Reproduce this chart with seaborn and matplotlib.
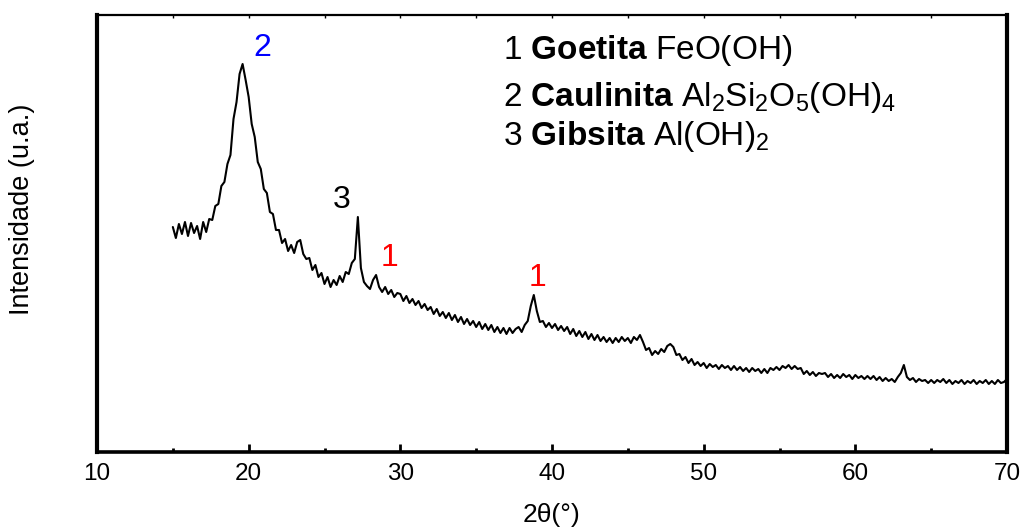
import numpy as np
import pandas as pd
import matplotlib
matplotlib.use("Agg")
import matplotlib.pyplot as plt
import seaborn as sns

# ---- data ----
two_theta = [
    15.0, 15.2, 15.4, 15.6, 15.8, 16.0, 16.2, 16.4, 16.6, 16.8,
    17.0, 17.2, 17.4, 17.6, 17.8, 18.0, 18.2, 18.4, 18.6, 18.8,
    19.0, 19.2, 19.4, 19.6, 19.8, 20.0, 20.2, 20.4, 20.6, 20.8,
    21.0, 21.2, 21.4, 21.6, 21.8, 22.0, 22.2, 22.4, 22.6, 22.8,
    23.0, 23.2, 23.4, 23.6, 23.8, 24.0, 24.2, 24.4, 24.6, 24.8,
    25.0, 25.2, 25.4, 25.6, 25.8, 26.0, 26.2, 26.4, 26.6, 26.8,
    27.0, 27.2, 27.4, 27.6, 27.8, 28.0, 28.2, 28.4, 28.6, 28.8,
    29.0, 29.2, 29.4, 29.6, 29.8, 30.0, 30.2, 30.4, 30.6, 30.8,
    31.0, 31.2, 31.4, 31.6, 31.8, 32.0, 32.2, 32.4, 32.6, 32.8,
    33.0, 33.2, 33.4, 33.6, 33.8, 34.0, 34.2, 34.4, 34.6, 34.8,
    35.0, 35.2, 35.4, 35.6, 35.8, 36.0, 36.2, 36.4, 36.6, 36.8,
    37.0, 37.2, 37.4, 37.6, 37.8, 38.0, 38.2, 38.4, 38.6, 38.8,
    39.0, 39.2, 39.4, 39.6, 39.8, 40.0, 40.2, 40.4, 40.6, 40.8,
    41.0, 41.2, 41.4, 41.6, 41.8, 42.0, 42.2, 42.4, 42.6, 42.8,
    43.0, 43.2, 43.4, 43.6, 43.8, 44.0, 44.2, 44.4, 44.6, 44.8,
    45.0, 45.2, 45.4, 45.6, 45.8, 46.0, 46.2, 46.4, 46.6, 46.8,
    47.0, 47.2, 47.4, 47.6, 47.8, 48.0, 48.2, 48.4, 48.6, 48.8,
    49.0, 49.2, 49.4, 49.6, 49.8, 50.0, 50.2, 50.4, 50.6, 50.8,
    51.0, 51.2, 51.4, 51.6, 51.8, 52.0, 52.2, 52.4, 52.6, 52.8,
    53.0, 53.2, 53.4, 53.6, 53.8, 54.0, 54.2, 54.4, 54.6, 54.8,
    55.0, 55.2, 55.4, 55.6, 55.8, 56.0, 56.2, 56.4, 56.6, 56.8,
    57.0, 57.2, 57.4, 57.6, 57.8, 58.0, 58.2, 58.4, 58.6, 58.8,
    59.0, 59.2, 59.4, 59.6, 59.8, 60.0, 60.2, 60.4, 60.6, 60.8,
    61.0, 61.2, 61.4, 61.6, 61.8, 62.0, 62.2, 62.4, 62.6, 62.8,
    63.0, 63.2, 63.4, 63.6, 63.8, 64.0, 64.2, 64.4, 64.6, 64.8,
    65.0, 65.2, 65.4, 65.6, 65.8, 66.0, 66.2, 66.4, 66.6, 66.8,
    67.0, 67.2, 67.4, 67.6, 67.8, 68.0, 68.2, 68.4, 68.6, 68.8,
    69.0, 69.2, 69.4, 69.6, 69.8, 70.0,
]
intensity = [
    225, 214, 228, 218, 230, 216, 229, 219, 226, 213,
    230, 220, 233, 232, 246, 248, 266, 270, 288, 297,
    333, 350, 378, 388, 372, 355, 328, 315, 290, 283,
    263, 259, 240, 238, 222, 222, 209, 213, 201, 207,
    199, 210, 212, 198, 193, 194, 182, 187, 175, 179,
    168, 175, 165, 172, 167, 176, 170, 180, 178, 189,
    193, 235, 184, 170, 166, 163, 172, 177, 165, 160,
    165, 158, 162, 155, 159, 158, 151, 156, 149, 153,
    147, 151, 144, 148, 142, 145, 138, 143, 136, 140,
    134, 139, 132, 137, 130, 135, 128, 133, 127, 131,
    125, 130, 123, 128, 122, 127, 120, 125, 119, 124,
    118, 124, 119, 123, 125, 120, 127, 131, 146, 157,
    141, 130, 131, 125, 129, 124, 128, 122, 126, 121,
    125, 118, 123, 116, 121, 115, 120, 113, 118, 112,
    117, 111, 115, 110, 114, 109, 114, 110, 115, 111,
    114, 109, 115, 112, 117, 110, 102, 104, 97, 101,
    98, 103, 100, 106, 108, 105, 97, 98, 92, 95,
    89, 93, 87, 90, 86, 89, 84, 88, 85, 87,
    83, 87, 84, 86, 82, 86, 82, 85, 81, 84,
    80, 84, 81, 83, 79, 83, 79, 84, 82, 85,
    82, 86, 84, 87, 83, 86, 83, 84, 78, 81,
    77, 80, 76, 79, 78, 79, 75, 78, 74, 77,
    74, 78, 75, 77, 73, 77, 74, 76, 73, 76,
    73, 76, 72, 75, 71, 74, 71, 73, 70, 75,
    79, 87, 75, 72, 74, 70, 73, 71, 72, 69,
    72, 69, 72, 70, 73, 69, 72, 68, 71, 69,
    72, 68, 71, 69, 72, 68, 71, 69, 72, 68,
    71, 68, 72, 69, 70, 73,
]

peak_labels = ["2", "3", "1", "1"]
peak_label_x = [20.9, 26.15, 29.3, 39.05]
peak_label_y = [404, 252, 194, 174]
peak_label_colors = ["#0000ff", "#000000", "#ff0000", "#ff0000"]

phase_lines = [
    r"1 $\mathbf{Goetita}$ FeO(OH)",
    r"2 $\mathbf{Caulinita}$ Al$_2$Si$_2$O$_5$(OH)$_4$",
    r"3 $\mathbf{Gibsita}$ Al(OH)$_2$",
]

x_ticks = [10, 20, 30, 40, 50, 60, 70]

# ---- style ----
sns.set_style("ticks")
plt.rcParams["font.family"] = ["Liberation Sans", "DejaVu Sans"]
plt.rcParams["mathtext.fontset"] = "custom"
plt.rcParams["mathtext.rm"] = "Liberation Sans"
plt.rcParams["mathtext.it"] = "Liberation Sans:italic"
plt.rcParams["mathtext.bf"] = "Liberation Sans:bold"
plt.rcParams["mathtext.default"] = "regular"
for key in ["text.color", "axes.labelcolor", "xtick.color", "ytick.color"]:
    plt.rcParams[key] = "black"

df = pd.DataFrame({"two_theta": two_theta, "intensity": intensity})

fig = plt.figure(figsize=(10.28, 5.28), dpi=100)
ax = fig.add_axes([97 / 1028, 76 / 528, 910 / 1028, 437 / 528])

sns.lineplot(data=df, x="two_theta", y="intensity", ax=ax, color="black",
             linewidth=1.5, estimator=None, sort=False)

ax.set_xlim(10, 70)
ax.set_ylim(0, 437)
ax.set_yticks([])
ax.set_xticks(x_ticks)
ax.set_xticks([15, 25, 35, 45, 55, 65], minor=True)
ax.tick_params(axis="x", which="major", direction="in", length=6, width=2,
               labelsize=17.5, pad=8, bottom=True, top=False, colors="black")
ax.tick_params(axis="x", which="minor", direction="in", length=3, width=2,
               bottom=True, top=False)

for side, lw in [("left", 3.0), ("bottom", 2.6), ("right", 3.0), ("top", 1.6)]:
    ax.spines[side].set_visible(True)
    ax.spines[side].set_linewidth(lw)
    ax.spines[side].set_color("black")

top = ax.secondary_xaxis("top")
top.set_xticks([15, 20, 25, 30, 35, 40, 45, 50, 55, 60, 65])
top.tick_params(direction="in", length=2, width=1, labeltop=False)
top.spines["top"].set_visible(False)

ax.set_xlabel("2θ(°)", fontsize=19, labelpad=13)
ax.set_ylabel("Intensidade (u.a.)", fontsize=19.5)
ax.yaxis.set_label_coords(-0.068, 0.555)

for lab, lx, ly, c in zip(peak_labels, peak_label_x, peak_label_y, peak_label_colors):
    ax.text(lx, ly, lab, color=c, fontsize=23, ha="center", va="center")

line_y = [0.918, 0.812, 0.722]
for txt, yy in zip(phase_lines, line_y):
    ax.text(0.446, yy, txt, transform=ax.transAxes, fontsize=24,
            ha="left", va="center", color="black")

fig.savefig("out.png", dpi=100)
